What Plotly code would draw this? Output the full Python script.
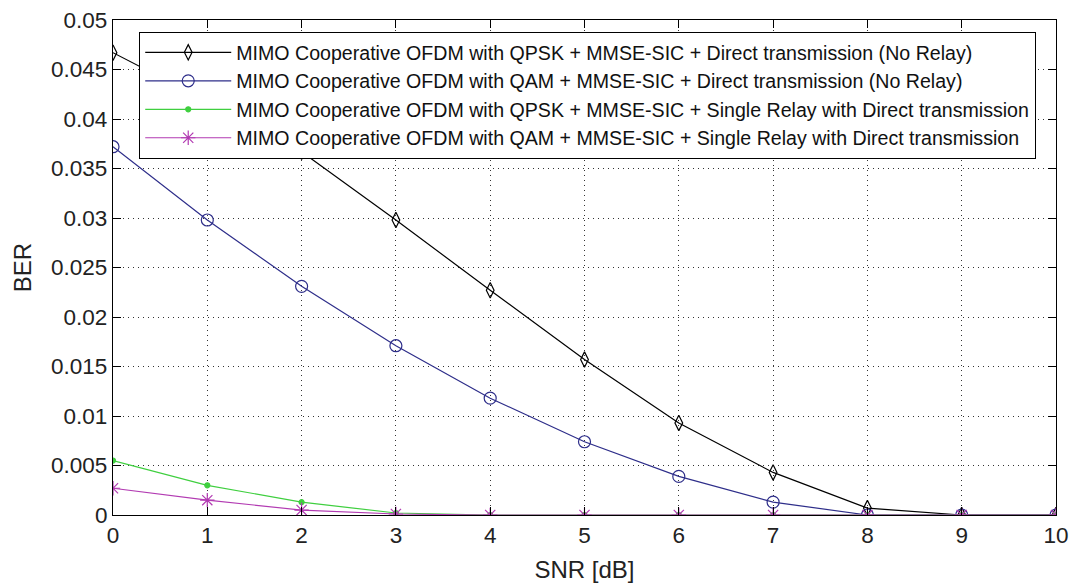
import plotly.graph_objects as go

snr = [0, 1, 2, 3, 4, 5, 6, 7, 8, 9, 10]
ber_qpsk_direct = [0.0467, 0.0418, 0.0367, 0.0298, 0.0227, 0.0157, 0.0093, 0.0043, 0.0007, 0.0, 0.0]
ber_qam_direct = [0.0372, 0.0298, 0.0231, 0.0171, 0.0118, 0.0074, 0.0039, 0.0013, 0.0, 0.0, 0.0]
ber_qpsk_relay = [0.0055, 0.0030, 0.0013, 0.0002, 0.0, 0.0, 0.0, 0.0, 0.0, 0.0, 0.0]
ber_qam_relay = [0.0027, 0.0015, 0.0005, 0.0001, 0.0, 0.0, 0.0, 0.0, 0.0, 0.0, 0.0]

names = [
    "MIMO Cooperative OFDM with QPSK + MMSE-SIC + Direct transmission (No Relay)",
    "MIMO Cooperative OFDM with QAM + MMSE-SIC + Direct transmission (No Relay)",
    "MIMO Cooperative OFDM with QPSK + MMSE-SIC + Single Relay with Direct transmission",
    "MIMO Cooperative OFDM with QAM + MMSE-SIC + Single Relay with Direct transmission",
]

fig = go.Figure()
series = [ber_qpsk_direct, ber_qam_direct, ber_qpsk_relay, ber_qam_relay]
colors = ["#000000", "#2e2e8a", "#3fcf3f", "#b23ab2"]
symbols = ["diamond-tall-open", "circle-open", "circle", "asterisk-open"]
sizes = [11, 12, 5, 12]

for ys, name, c, s, sz in zip(series, names, colors, symbols, sizes):
    fig.add_trace(go.Scatter(
        x=snr, y=ys, name=name, mode="lines+markers",
        line=dict(color=c, width=1.2),
        marker=dict(symbol=s, size=sz, color=c, line=dict(color=c, width=1.2)),
    ))

axis_common = dict(
    showline=True, linecolor="black", linewidth=1.2, mirror="ticks",
    ticks="inside", ticklen=8, tickcolor="black",
    showgrid=True, gridcolor="#333333", griddash="1px,4px", gridwidth=1,
    zeroline=False,
    tickfont=dict(family="Liberation Sans, Arial", size=22.5, color="#222222"),
)

fig.update_layout(
    width=1073, height=583,
    margin=dict(l=113, r=17, t=20, b=68, autoexpand=False),
    paper_bgcolor="white", plot_bgcolor="white",
    font=dict(family="Liberation Sans, Arial", color="#222222"),
    xaxis=dict(range=[0, 10], dtick=1, title=dict(text="SNR [dB]", font=dict(size=24), standoff=14), **axis_common),
    yaxis=dict(range=[0, 0.05], dtick=0.005, tickformat="~g",
               title=dict(text="BER", font=dict(size=24), standoff=12), **axis_common),
    legend=dict(
        x=0.0276, y=0.976, xanchor="left", yanchor="top",
        bgcolor="white", bordercolor="black", borderwidth=1.2,
        font=dict(size=19.6, color="#111111"),
        tracegroupgap=0, itemwidth=86,
    ),
    showlegend=True,
)

fig.write_html("out.html")
